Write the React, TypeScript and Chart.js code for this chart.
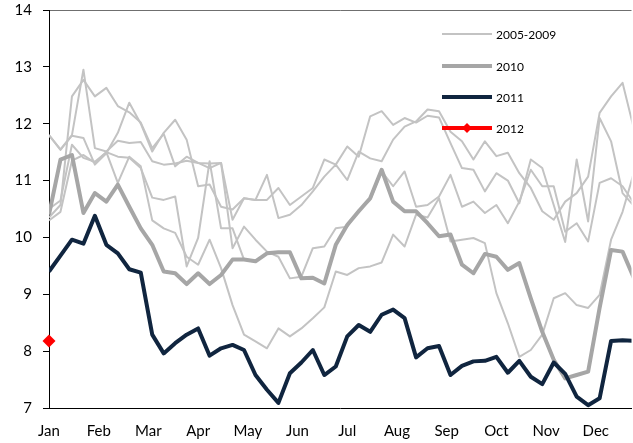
import React, { useEffect, useRef } from "react";
import { Chart, registerables } from "chart.js";

Chart.register(...registerables);

// ---- data ----
const months = ["Jan", "Feb", "Mar", "Apr", "May", "Jun", "Jul", "Aug", "Sep", "Oct", "Nov", "Dec"];
const weeksPerYear = 52;
const legendLabels = ["2005-2009", "2010", "2011", "2012"];

const y2012 = [8.18];

const y2011 = [
  9.40, 9.68, 9.96, 9.89, 10.38, 9.87, 9.72, 9.44, 9.38, 8.29,
  7.96, 8.14, 8.29, 8.40, 7.92, 8.05, 8.11, 8.02, 7.58, 7.32,
  7.09, 7.61, 7.80, 8.02, 7.58, 7.73, 8.26, 8.46, 8.34, 8.64,
  8.73, 8.58, 7.89, 8.05, 8.09, 7.58, 7.74, 7.82, 7.83, 7.90,
  7.62, 7.83, 7.55, 7.42, 7.80, 7.60, 7.20, 7.05, 7.17, 8.18,
  8.19, 8.18,
];

const y2010 = [
  10.40, 11.37, 11.45, 10.43, 10.78, 10.63, 10.93, 10.54, 10.16, 9.87,
  9.40, 9.37, 9.18, 9.37, 9.18, 9.34, 9.61, 9.61, 9.58, 9.72,
  9.74, 9.74, 9.28, 9.29, 9.19, 9.87, 10.22, 10.46, 10.69, 11.19,
  10.63, 10.46, 10.46, 10.25, 10.02, 10.05, 9.52, 9.37, 9.71, 9.66,
  9.43, 9.55, 8.93, 8.34, 7.85, 7.52, 7.58, 7.64, 8.76, 9.78,
  9.75, 9.28,
];

const yHistA = [
  11.80, 11.54, 11.79, 11.75, 11.28, 11.48, 11.84, 12.37, 12.00, 11.51,
  11.84, 12.07, 11.72, 10.90, 10.93, 10.54, 10.49, 10.69, 10.66, 11.10,
  10.34, 10.40, 10.57, 10.81, 11.07, 11.28, 11.01, 11.51, 11.39, 11.34,
  11.72, 11.95, 12.04, 12.25, 12.22, 11.86, 11.69, 11.37, 11.69, 11.43,
  11.49, 11.13, 10.87, 10.46, 10.31, 10.63, 10.78, 11.07, 12.19, 12.48,
  12.72, 11.90,
];

const yHistB = [
  10.35, 10.57, 12.48, 12.77, 12.48, 12.63, 12.31, 12.20, 12.02, 11.57,
  11.82, 11.25, 11.42, 11.31, 11.22, 11.31, 9.81, 10.19, 9.96, 9.75,
  9.66, 9.28, 9.31, 9.81, 9.84, 10.16, 10.19, 10.48, 10.66, 11.16,
  10.90, 11.16, 10.54, 10.57, 10.72, 11.10, 10.54, 10.63, 10.43, 10.57,
  10.25, 10.63, 11.19, 10.90, 10.90, 10.10, 10.25, 9.93, 10.96, 11.04,
  10.90, 10.60,
];

const yHistC = [
  11.80, 11.55, 11.80, 12.95, 11.57, 11.51, 11.70, 11.66, 11.68, 11.34,
  11.28, 11.30, 11.35, 11.31, 11.30, 11.31, 10.31, 10.69, 10.66, 10.66,
  10.87, 10.57, 10.72, 10.87, 11.37, 11.28, 11.60, 11.42, 12.13, 12.22,
  11.98, 12.10, 12.02, 12.14, 12.11, 11.66, 11.22, 11.19, 10.81, 11.13,
  11.00, 10.60, 11.37, 11.22, 10.57, 9.92, 11.37, 10.28, 12.10, 11.69,
  10.78, 10.55,
];

const yHistD = [
  10.50, 10.65, 11.63, 11.40, 11.33, 11.50, 11.42, 11.40, 11.22, 10.70,
  10.66, 10.72, 9.49, 9.99, 11.34, 10.16, 10.16, 9.61, null, null,
  null, null, null, null, null, null, null, null, null, null,
  null, null, null, null, null, null, null, null, null, null,
  null, null, null, null, null, null, null, null, null, null,
  null, null,
];

const yHistE = [
  10.30, 10.45, 11.35, 11.45, 11.31, 11.50, 10.96, 11.42, 11.25, 10.30,
  10.16, 10.08, 9.66, 9.52, 9.96, 9.46, 8.81, 8.29, 8.17, 8.05,
  8.40, 8.26, 8.40, 8.58, 8.77, 9.40, 9.34, 9.46, 9.49, 9.56,
  10.05, 9.84, 10.40, 10.35, 10.69, 9.93, 9.96, 9.99, 9.90, 9.02,
  8.49, 7.90, 8.02, 8.29, 8.93, 9.02, 8.81, 8.76, 8.99, 9.96,
  10.45, 11.15,
];

const histSeries = [yHistA, yHistB, yHistC, yHistD, yHistE];

// ---- styles ----
const COL_HIST = "#c3c3c3";
const COL_2010 = "#a6a6a6";
const COL_2011 = "#10253f";
const COL_2012 = "#ff0000";
const FONT = "Lato, 'Open Sans', sans-serif";

const toPoints = (arr: (number | null)[]) => arr.map((v, i) => ({ x: i, y: v }));

const legendPlugin = {
  id: "customLegend",
  afterDatasetsDraw(chart: any) {
    const ctx = chart.ctx as CanvasRenderingContext2D;
    const rows = [
      { color: COL_HIST, width: 2, marker: false },
      { color: COL_2010, width: 4, marker: false },
      { color: COL_2011, width: 4, marker: false },
      { color: COL_2012, width: 4, marker: true },
    ];
    const x1 = 442, x2 = 492, tx = 496;
    const ys = [34, 66, 97, 128];
    ctx.save();
    rows.forEach((r, i) => {
      const y = ys[i];
      ctx.beginPath();
      ctx.strokeStyle = r.color;
      ctx.lineWidth = r.width;
      ctx.lineCap = "butt";
      ctx.moveTo(x1, y);
      ctx.lineTo(x2, y);
      ctx.stroke();
      if (r.marker) {
        const cx = (x1 + x2) / 2, s = 5;
        ctx.beginPath();
        ctx.fillStyle = r.color;
        ctx.moveTo(cx, y - s);
        ctx.lineTo(cx + s, y);
        ctx.lineTo(cx, y + s);
        ctx.lineTo(cx - s, y);
        ctx.closePath();
        ctx.fill();
      }
      ctx.fillStyle = "#000";
      ctx.font = `12px ${FONT}`;
      ctx.textBaseline = "middle";
      ctx.textAlign = "left";
      ctx.fillText(legendLabels[i], tx, y + 1);
    });
    ctx.restore();
  },
};

export default function App() {
  const ref = useRef<HTMLCanvasElement | null>(null);

  useEffect(() => {
    document.body.style.margin = "0";
    if (!ref.current) return;

    const histDatasets = histSeries.map((arr, i) => ({
      label: i === 0 ? legendLabels[0] : `${legendLabels[0]} ${i + 1}`,
      data: toPoints(arr),
      borderColor: COL_HIST,
      backgroundColor: COL_HIST,
      borderWidth: 2,
      pointRadius: 0,
      tension: 0,
      borderJoinStyle: "round" as const,
      spanGaps: false,
    }));

    const chart = new Chart(ref.current, {
      type: "line",
      data: {
        datasets: [
          {
            label: legendLabels[3],
            data: toPoints(y2012),
            borderColor: COL_2012,
            backgroundColor: COL_2012,
            borderWidth: 4,
            pointStyle: "rectRot",
            pointRadius: 6.5,
            pointBorderWidth: 0,
            clip: false,
          } as any,
          {
            label: legendLabels[2],
            data: toPoints(y2011),
            borderColor: COL_2011,
            backgroundColor: COL_2011,
            borderWidth: 4,
            pointRadius: 0,
            tension: 0,
            borderJoinStyle: "round",
          },
          {
            label: legendLabels[1],
            data: toPoints(y2010),
            borderColor: COL_2010,
            backgroundColor: COL_2010,
            borderWidth: 4,
            pointRadius: 0,
            tension: 0,
            borderJoinStyle: "round",
          },
          ...histDatasets,
        ],
      },
      options: {
        animation: false,
        responsive: false,
        devicePixelRatio: 1,
        layout: { padding: { top: 10, right: 0, left: 0, bottom: 0 } },
        plugins: {
          legend: { display: false },
          tooltip: { enabled: false },
        },
        scales: {
          x: {
            type: "linear",
            min: 0,
            max: 50.78,
            afterFit: (scale: any) => {
              scale.height = 35;
              scale.paddingLeft = 0;
              scale.paddingRight = 0;
            },
            afterBuildTicks: (scale: any) => {
              scale.ticks = months.map((_, i) => ({ value: (i * weeksPerYear) / 12 }));
            },
            ticks: {
              autoSkip: false,
              maxRotation: 0,
              padding: 0,
              color: "#000",
              font: { family: FONT, size: 15 },
              callback: (_v: any, index: number) => months[index],
            },
            grid: { display: false, drawTicks: true, tickLength: 14 },
            border: { display: true, color: "#000", width: 1 },
          },
          y: {
            min: 7,
            max: 14,
            afterFit: (scale: any) => {
              scale.width = 49;
              scale.paddingTop = 0;
              scale.paddingBottom = 0;
            },
            ticks: {
              stepSize: 1,
              padding: 11,
              color: "#000",
              font: { family: FONT, size: 15 },
            },
            grid: {
              display: true,
              drawTicks: true,
              tickLength: 6,
              tickColor: "#000",
              color: (c: any) => (c.tick && c.tick.value === 14 ? "#6f6f6f" : "rgba(0,0,0,0)"),
            },
            border: { display: true, color: "#000", width: 1 },
          },
        },
      },
      plugins: [legendPlugin],
    });

    return () => chart.destroy();
  }, []);

  return (
    <div style={{ width: 633, height: 443, position: "relative", overflow: "hidden" }}>
      <canvas ref={ref} width={638} height={443} style={{ display: "block" }} />
    </div>
  );
}
